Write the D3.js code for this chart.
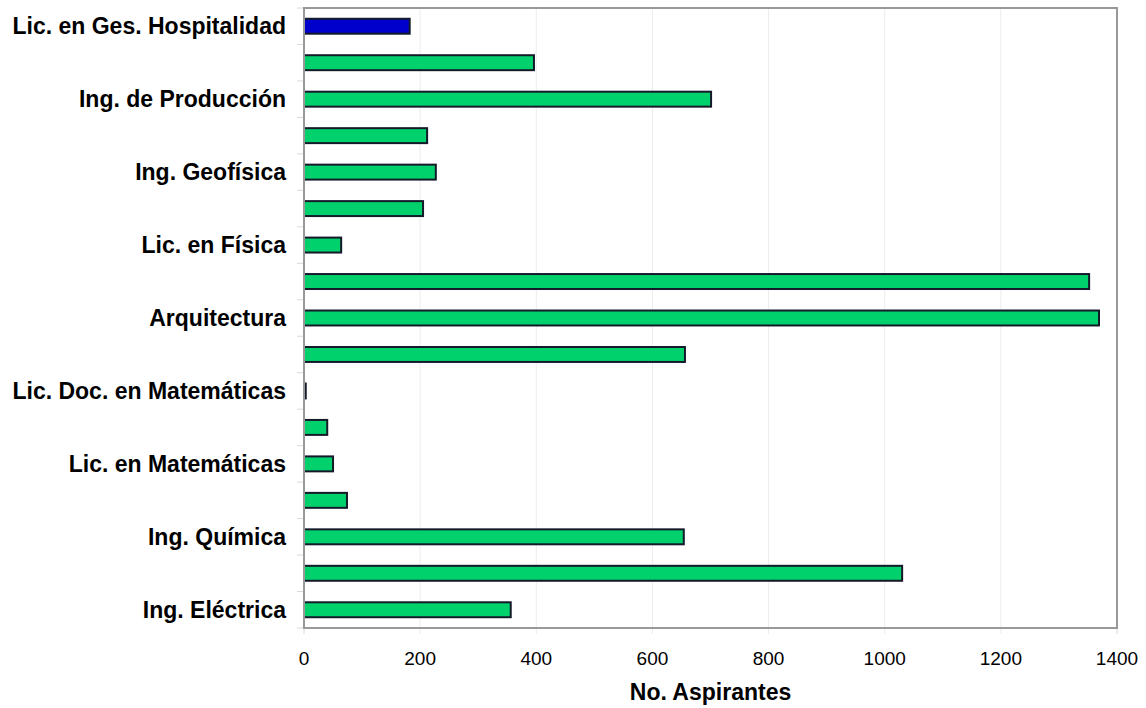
<!DOCTYPE html>
<html><head><meta charset="utf-8">
<script src="https://cdn.jsdelivr.net/npm/d3@7"></script>
<style>
html,body{margin:0;padding:0;background:#fff;}
svg{display:block;}
text{font-family:"Liberation Sans",Arial,sans-serif;}
</style></head>
<body>
<svg id="chart" width="1146" height="708"></svg>
<script>
// Categories top to bottom (empty strings = labels not shown in the reference)
const categories = ["Lic. en Ges. Hospitalidad","","Ing. de Producción","","Ing. Geofísica","","Lic. en Física","","Arquitectura","","Lic. Doc. en Matemáticas","","Lic. en Matemáticas","","Ing. Química","","Ing. Eléctrica"];
const values = [182, 396, 701, 212, 227, 205, 64, 1352, 1369, 656, 3, 40, 50, 74, 654, 1030, 356];
const highlight = [true,false,false,false,false,false,false,false,false,false,false,false,false,false,false,false,false];
const xTicks = [0,200,400,600,800,1000,1200,1400];
const xTitle = "No. Aspirantes";

const svg = d3.select("#chart");
const m = {left:304, right:1117, top:8, bottom:628};
const x = d3.scaleLinear().domain([0,1400]).range([m.left, m.right]);
const idx = categories.map((d,i)=>i);
const y = d3.scaleBand().domain(idx).range([m.top, m.bottom]).paddingInner(0.59).paddingOuter(0.295);
const yb = d3.scaleBand().domain(idx).range([m.top, m.bottom]);

// gridlines
svg.append("g").selectAll("line").data(xTicks.slice(1,-1)).join("line")
  .attr("x1",d=>x(d)).attr("x2",d=>x(d)).attr("y1",m.top).attr("y2",m.bottom+6)
  .attr("stroke","#ececec").attr("stroke-width",1);
svg.append("g").selectAll("line").data([0,1400]).join("line")
  .attr("x1",d=>x(d)).attr("x2",d=>x(d)).attr("y1",m.bottom).attr("y2",m.bottom+6)
  .attr("stroke","#d8d8d8").attr("stroke-width",1);

// left category ticks at boundaries
const bounds = idx.map(i=>yb(i)).concat([m.bottom]);
svg.append("g").selectAll("line").data(bounds).join("line")
  .attr("x1",m.left-7).attr("x2",m.left).attr("y1",d=>d).attr("y2",d=>d)
  .attr("stroke","#d8d8d8").attr("stroke-width",1);

// bars
svg.append("g").selectAll("rect").data(values).join("rect")
  .attr("x",x(0)).attr("y",(d,i)=>y(i))
  .attr("width",d=>x(d)-x(0)).attr("height",y.bandwidth())
  .attr("fill",(d,i)=>highlight[i]?"#0000cc":"#00d16c")
  .attr("stroke","#141a2a").attr("stroke-width",2);

// frame
svg.append("rect").attr("x",m.left).attr("y",m.top).attr("width",m.right-m.left).attr("height",m.bottom-m.top)
  .attr("fill","none").attr("stroke","#999").attr("stroke-width",2);

// category labels
svg.append("g").selectAll("text").data(categories).join("text")
  .attr("x",m.left-18).attr("y",(d,i)=>yb(i)+yb.bandwidth()/2)
  .attr("dy","0.35em").attr("text-anchor","end")
  .attr("font-size",23).attr("font-weight","bold").attr("fill","#000")
  .text(d=>d);

// x tick labels
svg.append("g").selectAll("text").data(xTicks).join("text")
  .attr("x",d=>x(d)).attr("y",665).attr("text-anchor","middle")
  .attr("font-size",19).attr("fill","#000").text(d=>d);

// title
svg.append("text").attr("x",(m.left+m.right)/2).attr("y",700).attr("text-anchor","middle")
  .attr("font-size",23).attr("font-weight","bold").attr("fill","#000").text(xTitle);
</script>
</body></html>
